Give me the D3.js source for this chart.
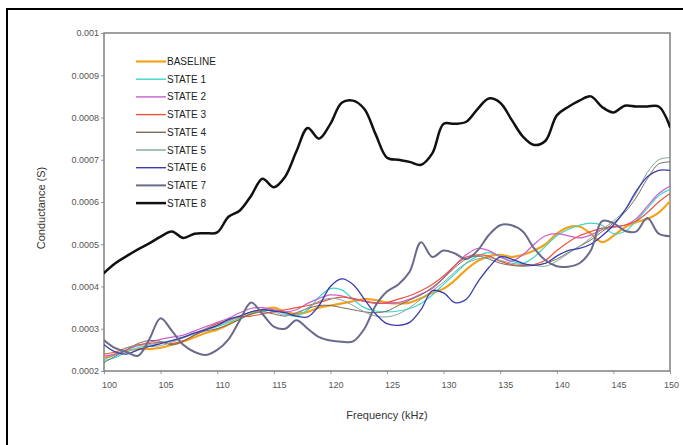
<!DOCTYPE html>
<html>
<head>
<meta charset="utf-8">
<script src="https://cdn.jsdelivr.net/npm/d3@7"></script>
<style>
  html, body { margin: 0; padding: 0; background: #fff; }
  svg { display: block; }
  .tick-label { font-family: "Liberation Sans Narrow", "Liberation Sans", Arial, sans-serif; font-size: 9px; fill: #555; }
  .legend-label { font-family: "Liberation Sans Narrow", "Liberation Sans", Arial, sans-serif; font-size: 10px; fill: #222; }
  .axis-title { font-family: "Liberation Sans", Arial, sans-serif; font-size: 11px; fill: #333; }
</style>
</head>
<body>
<svg id="chart" width="683" height="445"></svg>
<script>
// Frequency sweep (kHz)
const frequency = [100,101,102,103,104,105,106,107,108,109,110,111,112,113,114,115,116,117,118,119,120,
  121,122,123,124,125,126,127,128,129,130,131,132,133,134,135,136,137,138,139,140,
  141,142,143,144,145,146,147,148,149,150];

// Conductance (S) per state
const baseline = [0.000230,0.000240,0.000248,0.000252,0.000252,0.000255,0.000262,0.000270,0.000280,0.000290,0.000298,
  0.000310,0.000325,0.000335,0.000345,0.000350,0.000340,0.000335,0.000340,0.000350,0.000355,
  0.000360,0.000365,0.000370,0.000368,0.000362,0.000360,0.000362,0.000372,0.000385,0.000395,
  0.000415,0.000440,0.000460,0.000472,0.000475,0.000470,0.000475,0.000485,0.000500,0.000525,
  0.000540,0.000542,0.000525,0.000505,0.000520,0.000540,0.000552,0.000560,0.000575,0.000602];
const state1 = [0.000225,0.000232,0.000245,0.000255,0.000262,0.000268,0.000272,0.000280,0.000288,0.000298,0.000305,
  0.000315,0.000325,0.000335,0.000340,0.000345,0.000335,0.000330,0.000345,0.000375,0.000395,
  0.000392,0.000370,0.000350,0.000342,0.000340,0.000342,0.000348,0.000360,0.000380,0.000405,
  0.000430,0.000455,0.000472,0.000480,0.000472,0.000460,0.000455,0.000470,0.000495,0.000520,
  0.000535,0.000545,0.000550,0.000545,0.000525,0.000530,0.000555,0.000585,0.000615,0.000630];
const state2 = [0.000235,0.000240,0.000250,0.000260,0.000268,0.000275,0.000280,0.000285,0.000295,0.000305,0.000315,
  0.000325,0.000338,0.000348,0.000350,0.000345,0.000340,0.000345,0.000360,0.000372,0.000380,
  0.000378,0.000370,0.000365,0.000362,0.000360,0.000362,0.000370,0.000382,0.000395,0.000420,
  0.000450,0.000475,0.000490,0.000485,0.000470,0.000460,0.000475,0.000500,0.000520,0.000525,
  0.000520,0.000515,0.000522,0.000535,0.000540,0.000545,0.000560,0.000590,0.000620,0.000638];
const state3 = [0.000240,0.000245,0.000255,0.000262,0.000265,0.000268,0.000265,0.000272,0.000285,0.000300,0.000312,
  0.000320,0.000328,0.000330,0.000335,0.000340,0.000345,0.000350,0.000355,0.000362,0.000370,
  0.000375,0.000372,0.000365,0.000360,0.000362,0.000370,0.000378,0.000390,0.000405,0.000425,
  0.000450,0.000470,0.000475,0.000472,0.000460,0.000452,0.000450,0.000452,0.000462,0.000485,
  0.000505,0.000520,0.000530,0.000538,0.000542,0.000545,0.000555,0.000575,0.000600,0.000620];
const state4 = [0.000220,0.000235,0.000250,0.000265,0.000272,0.000270,0.000262,0.000270,0.000285,0.000295,0.000300,
  0.000310,0.000322,0.000335,0.000340,0.000335,0.000330,0.000338,0.000348,0.000355,0.000355,
  0.000350,0.000345,0.000340,0.000338,0.000342,0.000355,0.000368,0.000380,0.000398,0.000420,
  0.000445,0.000465,0.000472,0.000465,0.000455,0.000450,0.000448,0.000450,0.000455,0.000465,
  0.000480,0.000495,0.000510,0.000530,0.000550,0.000575,0.000610,0.000655,0.000690,0.000695];
const state5 = [0.000228,0.000238,0.000255,0.000260,0.000258,0.000260,0.000268,0.000278,0.000290,0.000300,0.000308,
  0.000318,0.000330,0.000340,0.000345,0.000340,0.000332,0.000335,0.000350,0.000365,0.000372,
  0.000368,0.000355,0.000340,0.000330,0.000328,0.000335,0.000350,0.000370,0.000390,0.000410,
  0.000435,0.000455,0.000465,0.000468,0.000462,0.000455,0.000452,0.000450,0.000448,0.000460,
  0.000478,0.000495,0.000515,0.000535,0.000555,0.000580,0.000620,0.000670,0.000700,0.000705];
const state6 = [0.000262,0.000245,0.000240,0.000250,0.000258,0.000265,0.000272,0.000280,0.000290,0.000298,0.000308,
  0.000322,0.000330,0.000340,0.000345,0.000342,0.000338,0.000330,0.000328,0.000355,0.000400,
  0.000418,0.000405,0.000370,0.000335,0.000312,0.000308,0.000315,0.000345,0.000390,0.000385,
  0.000362,0.000370,0.000410,0.000445,0.000470,0.000465,0.000455,0.000450,0.000455,0.000472,
  0.000485,0.000490,0.000500,0.000520,0.000545,0.000580,0.000625,0.000660,0.000675,0.000675];
const state7 = [0.000273,0.000254,0.000245,0.000236,0.000275,0.000325,0.000295,0.000262,0.000245,0.000238,0.000250,
  0.000275,0.000320,0.000362,0.000335,0.000305,0.000300,0.000320,0.000300,0.000280,0.000272,
  0.000269,0.000270,0.000300,0.000355,0.000388,0.000405,0.000435,0.000505,0.000470,0.000485,
  0.000478,0.000465,0.000485,0.000522,0.000545,0.000545,0.000530,0.000490,0.000462,0.000448,
  0.000447,0.000455,0.000485,0.000555,0.000550,0.000532,0.000530,0.000562,0.000525,0.000519];
const state8 = [0.000432,0.000455,0.000472,0.000488,0.000502,0.000518,0.000530,0.000515,0.000525,0.000526,0.000528,
  0.000565,0.000580,0.000615,0.000655,0.000635,0.000660,0.000720,0.000775,0.000750,0.000785,
  0.000835,0.000840,0.000820,0.000760,0.000705,0.000700,0.000695,0.000688,0.000715,0.000785,
  0.000785,0.000790,0.000820,0.000845,0.000835,0.000795,0.000755,0.000735,0.000745,0.000805,
  0.000825,0.000840,0.000850,0.000825,0.000812,0.000828,0.000826,0.000826,0.000826,0.000778];

const seriesNames = ["BASELINE","STATE 1","STATE 2","STATE 3","STATE 4","STATE 5","STATE 6","STATE 7","STATE 8"];
const seriesValues = [baseline, state1, state2, state3, state4, state5, state6, state7, state8];
const seriesColors = ["#f4a21c","#3fd8c8","#cc5fd0","#e8553c","#7a6a5a","#7fa89b","#3a3ab0","#6a6a8c","#111111"];
const seriesWidths = [2.2, 1.2, 1.2, 1.2, 1.0, 1.0, 1.3, 2.0, 2.5];

const xTicks = [100,105,110,115,120,125,130,135,140,145,150];
const yTicks = [0.0002,0.0003,0.0004,0.0005,0.0006,0.0007,0.0008,0.0009,0.001];
const yTickLabels = ["0.0002","0.0003","0.0004","0.0005","0.0006","0.0007","0.0008","0.0009","0.001"];

const svg = d3.select("#chart");
const plot = { left: 104, right: 670, top: 33, bottom: 371 };

// Outer frame
svg.append("rect")
  .attr("x", 7).attr("y", 9)
  .attr("width", 700).attr("height", 460)
  .attr("fill", "none").attr("stroke", "#000").attr("stroke-width", 2);

const x = d3.scaleLinear().domain([100, 150]).range([plot.left, plot.right]);
const y = d3.scaleLinear().domain([0.0002, 0.001]).range([plot.bottom, plot.top]);

// Axes
const xAxis = d3.axisBottom(x).tickValues(xTicks).tickSize(3).tickFormat(d3.format("d"));
const yAxis = d3.axisLeft(y).tickValues(yTicks).tickSize(3)
  .tickFormat((d, i) => yTickLabels[i]);

const gx = svg.append("g").attr("transform", `translate(0,${plot.bottom})`).call(xAxis);
gx.select(".domain").remove();
gx.selectAll(".tick line").attr("stroke", "#999");
gx.selectAll(".tick text").attr("class", "tick-label").attr("y", 11).attr("dy", "0.71em")
  .attr("dx", (d, i) => i === xTicks.length - 1 ? 1 : 5);

const gy = svg.append("g").attr("transform", `translate(${plot.left},0)`).call(yAxis);
gy.select(".domain").remove();
gy.selectAll(".tick line").attr("stroke", "#999");
gy.selectAll(".tick text").attr("class", "tick-label").attr("x", -5);

// Plot border
svg.append("rect")
  .attr("x", plot.left).attr("y", plot.top)
  .attr("width", plot.right - plot.left).attr("height", plot.bottom - plot.top)
  .attr("fill", "none").attr("stroke", "#808080").attr("stroke-width", 1.5);

// Series lines
svg.append("clipPath").attr("id", "plot-clip")
  .append("rect").attr("x", plot.left).attr("y", plot.top)
  .attr("width", plot.right - plot.left).attr("height", plot.bottom - plot.top);

const line = d3.line()
  .x((d, i) => x(frequency[i]))
  .y(d => y(d))
  .curve(d3.curveCatmullRom.alpha(0.5));

const gLines = svg.append("g").attr("clip-path", "url(#plot-clip)");
seriesValues.forEach((vals, k) => {
  gLines.append("path")
    .datum(vals)
    .attr("d", line)
    .attr("fill", "none")
    .attr("stroke", seriesColors[k])
    .attr("stroke-width", seriesWidths[k])
    .attr("stroke-linejoin", "round")
    .attr("stroke-linecap", "round");
});

// Legend
const legend = svg.append("g").attr("transform", "translate(136,61.5)");
seriesNames.forEach((name, k) => {
  const row = legend.append("g").attr("transform", `translate(0,${k * 17.7})`);
  row.append("line")
    .attr("x1", 0).attr("x2", 30).attr("y1", 0).attr("y2", 0)
    .attr("stroke", seriesColors[k])
    .attr("stroke-width", Math.max(1.4, seriesWidths[k]));
  row.append("text")
    .attr("class", "legend-label")
    .attr("x", 31).attr("y", 0).attr("dy", "0.35em")
    .text(name);
});

// Axis titles
svg.append("text")
  .attr("class", "axis-title")
  .attr("x", 387).attr("y", 419)
  .attr("text-anchor", "middle")
  .text("Frequency (kHz)");

svg.append("text")
  .attr("class", "axis-title")
  .attr("transform", "translate(45,208) rotate(-90)")
  .attr("text-anchor", "middle")
  .text("Conductance (S)");
</script>
</body>
</html>
